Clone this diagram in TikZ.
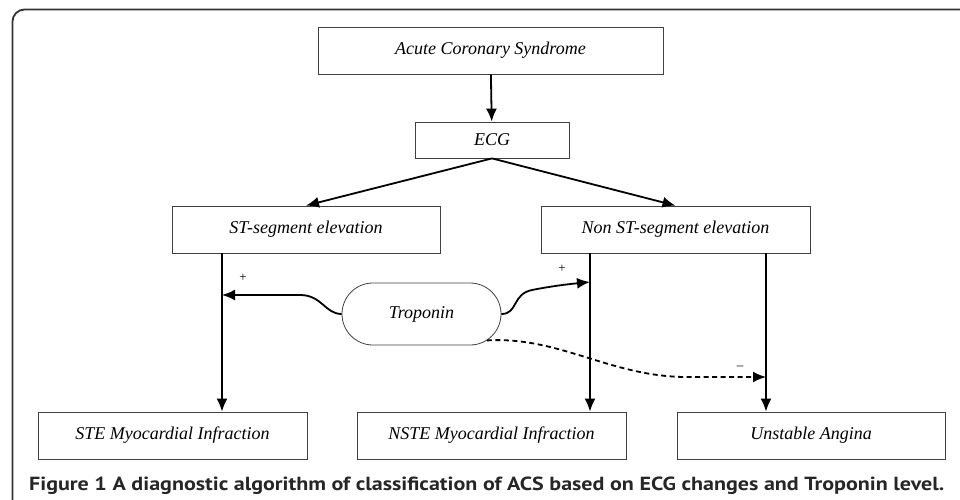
\documentclass[tikz,border=0pt]{standalone}
\usepackage{fontspec}
\setmainfont{Liberation Serif}
\newfontfamily\capfont{PT Sans}
\usetikzlibrary{arrows.meta,shapes.misc}

\tikzset{
  box/.style={draw=black!75, line width=0.8pt, minimum height=47pt, inner sep=0pt,
    font=\fontsize{18}{21}\selectfont\itshape},
  arr/.style={line width=1.8pt, -{Latex[length=13pt,width=11pt]}},
  sign/.style={inner sep=0pt, font=\fontsize{13}{13}\selectfont},
}

\begin{document}
\begin{tikzpicture}[x=1pt,y=-1pt]
   \useasboundingbox (0,0) rectangle (960,500);
   % outer frame
   \draw[black!80,line width=1.8pt,rounded corners=12pt] (12.5,500) -- (12.5,9.5) -- (960,9.5);

   \node[box,minimum width=345pt] (acs) at (490.5,50.5) {Acute Coronary Syndrome};
   \node[box,minimum width=154pt,minimum height=36pt] (ecg) at (492,140) {ECG};
   \node[box,minimum width=268pt] (ste) at (306,229.5) {ST-segment elevation};
   \node[box,minimum width=269pt] (nste) at (675.5,229.5) {Non ST-segment elevation};
   \node[box,rounded rectangle,minimum width=159pt,minimum height=62pt] (trop) at (421.5,314) {Troponin};
   \node[box,minimum width=269pt] (stemi) at (172.5,435.5) {STE Myocardial Infraction};
   \node[box,minimum width=269pt] (nstemi) at (491.5,435.5) {NSTE Myocardial Infraction};
   \node[box,minimum width=268pt] (ua) at (811,435.5) {Unstable Angina};

   \draw[arr] (acs) -- (ecg);
   \draw[arr] (ecg.south) -- (ste.north);
   \draw[arr] (ecg.south) -- (nste.north);

   % the three vertical lines
   \coordinate (xa) at (222,0);
   \coordinate (xb) at (590,0);
   \coordinate (xc) at (766,0);
   \draw[arr] (ste.south -| xa) -- (stemi.north -| xa);
   \draw[arr] (nste.south -| xb) -- (nstemi.north -| xb);
   \draw[arr] (nste.south -| xc) -- (ua.north -| xc);

   % troponin
   \coordinate (hitl) at (222,295);
   \coordinate (hitr) at (590,282);
   \coordinate (hitd) at (766,377);
   \draw[arr] (trop.west) .. controls (325,314) and (322,295) .. (300,295) -- (hitl);
   \draw[arr] (trop.east) .. controls (518,314) and (512,294) .. (532,290) .. controls (552,286) and (570,284) .. (hitr);
   \draw[arr,dash pattern=on 5pt off 3.5pt] (trop.-22) .. controls (560,336) and (612,378) .. (690,377) -- (hitd);

   \node[sign] (plusl) at (243,278) {+};
   \node[sign] (plusr) at (562,269) {+};
   \node[sign] (minus) at (740,368) {--};

   \node[anchor=base west,inner sep=0pt,text=black!85,font=\capfont\bfseries\fontsize{19}{21}\selectfont] (cap) at (29,490)
      {\resizebox{915pt}{\height}{Figure 1 A diagnostic algorithm of classification of ACS based on ECG changes and Troponin level.}};
\end{tikzpicture}
\end{document}
